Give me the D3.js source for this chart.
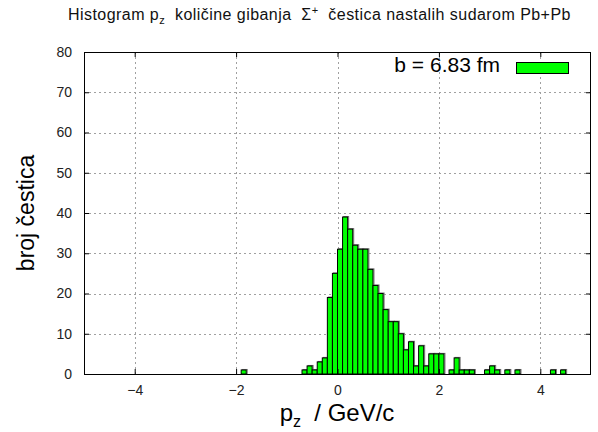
<!DOCTYPE html>
<html>
<head>
<meta charset="utf-8">
<script src="https://cdn.jsdelivr.net/npm/d3@7"></script>
<style>
  html, body { margin: 0; padding: 0; background: #fff; }
  svg { display: block; font-family: "Liberation Sans", Arial, sans-serif; }
</style>
</head>
<body>
<svg id="chart" width="598" height="432"></svg>
<script>
// Histogram of p_z (GeV/c), bin width 0.1; binLeft holds each bin's lower edge
const binWidth = 0.1;
const binLeft = [-1.9,
  -0.7, -0.6, -0.5, -0.4, -0.3, -0.2, -0.1, 0.0, 0.1, 0.2,
  0.3, 0.4, 0.5, 0.6, 0.7, 0.8, 0.9, 1.0, 1.1, 1.2,
  1.3, 1.4, 1.5, 1.6, 1.7, 1.8, 1.9, 2.0, 2.2, 2.3,
  2.4, 2.5, 2.6, 2.9, 3.0, 3.1, 3.3, 3.5, 4.2, 4.4];
const counts = [1,
  1, 2, 1, 3, 4, 19, 25, 31, 39, 36,
  32, 31, 31, 26, 22, 20, 16, 13, 13, 10,
  6, 8, 2, 7, 2, 5, 5, 5, 1, 4,
  1, 1, 1, 1, 2, 1, 1, 1, 1, 1];

const xTicks = [-4, -2, 0, 2, 4];
const yTicks = [0, 10, 20, 30, 40, 50, 60, 70, 80];
const xDomain = [-5, 5];
const yDomain = [0, 80];
const legendLabel = "b = 6.83 fm";

const svg = d3.select("#chart");
const plotL = 84, plotR = 591, plotT = 52, plotB = 374;

const x = d3.scaleLinear().domain(xDomain).range([plotL, plotR]);
const y = d3.scaleLinear().domain(yDomain).range([plotB, plotT]);

// grid
const grid = svg.append("g").attr("stroke", "#a0a0a0").attr("stroke-width", 1)
  .attr("stroke-dasharray", "2,3").attr("shape-rendering", "crispEdges");
yTicks.filter(v => v > yDomain[0] && v < yDomain[1]).forEach(v => {
  grid.append("line").attr("x1", plotL).attr("x2", plotR)
    .attr("y1", Math.round(y(v)) + 0.5).attr("y2", Math.round(y(v)) + 0.5);
});
xTicks.forEach(v => {
  grid.append("line").attr("y1", plotT).attr("y2", plotB)
    .attr("x1", Math.round(x(v)) + 0.5).attr("x2", Math.round(x(v)) + 0.5);
});

// bars (with a faint offset outline behind each)
const bars = binLeft.map((e, i) => ({ e, c: counts[i] }));
svg.append("g").selectAll("rect").data(bars).join("rect")
  .attr("x", d => x(d.e) + 1)
  .attr("y", d => y(d.c) - 0.5)
  .attr("width", d => x(d.e + binWidth) - x(d.e))
  .attr("height", d => y(0) - y(d.c))
  .attr("fill", "none").attr("stroke", "#777").attr("stroke-width", 1);
svg.append("g").selectAll("rect").data(bars).join("rect")
  .attr("x", d => x(d.e))
  .attr("y", d => y(d.c))
  .attr("width", d => x(d.e + binWidth) - x(d.e))
  .attr("height", d => y(0) - y(d.c))
  .attr("fill", "#00ff00").attr("stroke", "#000").attr("stroke-width", 1);

// axes (ticks drawn inward, mirrored)
const tickLen = 5;
const axB = svg.append("g").attr("transform", `translate(0,${plotB})`)
  .call(d3.axisBottom(x).tickValues(xTicks).tickSizeInner(-tickLen).tickSizeOuter(0).tickPadding(11));
const axT = svg.append("g").attr("transform", `translate(0,${plotT})`)
  .call(d3.axisTop(x).tickValues(xTicks).tickSizeInner(-tickLen).tickSizeOuter(0).tickFormat(""));
const axL = svg.append("g").attr("transform", `translate(${plotL},0)`)
  .call(d3.axisLeft(y).tickValues(yTicks).tickSizeInner(-tickLen).tickSizeOuter(0).tickPadding(12));
const axR = svg.append("g").attr("transform", `translate(${plotR},0)`)
  .call(d3.axisRight(y).tickValues(yTicks).tickSizeInner(-tickLen).tickSizeOuter(0).tickFormat(""));
[axB, axT, axL, axR].forEach(a => {
  a.select(".domain").remove();
  a.selectAll("line").attr("stroke", "#000");
  a.selectAll("text").attr("font-family", "Liberation Sans, Arial, sans-serif")
    .attr("font-size", 14).attr("fill", "#222");
});

// frame
svg.append("rect").attr("x", plotL + 0.5).attr("y", plotT + 0.5)
  .attr("width", plotR - plotL - 1).attr("height", plotB - plotT)
  .attr("fill", "none").attr("stroke", "#000").attr("stroke-width", 1);

// legend
svg.append("text").attr("x", 500).attr("y", 72).attr("text-anchor", "end")
  .attr("font-size", 21).attr("fill", "#000").text(legendLabel);
svg.append("rect").attr("x", 516.5).attr("y", 62.5).attr("width", 52).attr("height", 11)
  .attr("fill", "#00ff00").attr("stroke", "#000").attr("stroke-width", 1);

// title
const title = svg.append("text").attr("x", 68).attr("y", 20)
  .attr("font-size", 16).attr("letter-spacing", 0.45).attr("fill", "#111");
title.append("tspan").text("Histogram p");
title.append("tspan").attr("font-size", 11).attr("dy", 4).text("z");
title.append("tspan").attr("dy", -4).text("\u00a0\u00a0količine gibanja \u00a0Σ");
title.append("tspan").attr("font-size", 11).attr("dy", -6).text("+");
title.append("tspan").attr("dy", 6).text("\u00a0\u00a0čestica nastalih sudarom Pb+Pb");

// axis titles
const xl = svg.append("text").attr("x", 337).attr("y", 421).attr("text-anchor", "middle")
  .attr("font-size", 24).attr("fill", "#000");
xl.append("tspan").text("p");
xl.append("tspan").attr("font-size", 16).attr("dy", 6).text("z");
xl.append("tspan").attr("dy", -6).text("\u00a0\u00a0/ GeV/c");

svg.append("text").attr("transform", "translate(34,213) rotate(-90)")
  .attr("text-anchor", "middle").attr("font-size", 23).attr("fill", "#000")
  .text("broj čestica");
</script>
</body>
</html>
